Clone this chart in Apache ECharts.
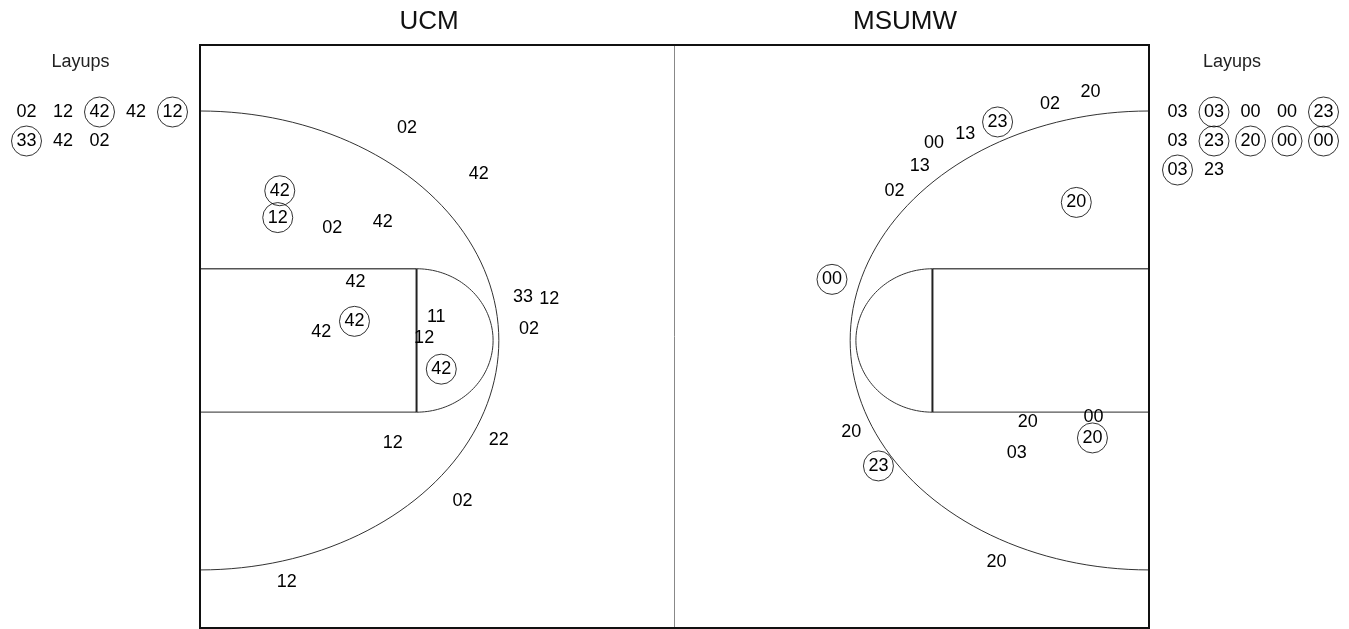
<!DOCTYPE html>
<html>
<head>
<meta charset="utf-8">
<script src="https://cdn.jsdelivr.net/npm/echarts@6/dist/echarts.min.js"></script>
<style>
  html, body { margin: 0; padding: 0; background: #fff; }
  #chart { width: 1349px; height: 629px; }
</style>
</head>
<body>
<div id="chart"></div>
<script>
// shot spots in feet: x along the court (0 = UCM baseline), y across (0 = top sideline)
const ucmPlayers = ['02', '42', '42', '12', '02', '42', '42', '42', '42', '11', '12', '42', '33', '12', '02', '12', '22', '02', '12'];
const ucmX = [20.5, 27.6, 7.9, 7.7, 13.1, 18.1, 15.4, 15.3, 12.0, 23.4, 22.2, 23.9, 32.0, 34.6, 32.6, 19.1, 29.6, 26.0, 8.6];
const ucmY = [7.1, 11.1, 12.5, 14.8, 15.7, 15.2, 20.3, 23.7, 24.6, 23.3, 25.1, 27.8, 21.6, 21.8, 24.4, 34.1, 33.9, 39.1, 46.1];
const ucmMade = [0, 0, 1, 1, 0, 0, 0, 1, 0, 0, 0, 1, 0, 0, 0, 0, 0, 0, 0];

const msuPlayers = ['20', '02', '23', '13', '00', '13', '02', '20', '00', '20', '23', '20', '00', '20', '03', '20'];
const msuX = [88.2, 84.2, 79.0, 75.8, 72.7, 71.3, 68.8, 86.8, 62.6, 64.5, 67.2, 82.0, 88.5, 88.4, 80.9, 78.9];
const msuY = [4.0, 5.1, 6.6, 7.6, 8.4, 10.4, 12.5, 13.5, 20.1, 33.2, 36.1, 32.3, 31.9, 33.7, 35.0, 44.3];
const msuMade = [0, 0, 1, 0, 0, 0, 0, 1, 1, 0, 1, 0, 0, 1, 0, 0];

const ucmLayups = ['02', '12', '42', '42', '12', '33', '42', '02'];
const ucmLayupMade = [0, 0, 1, 0, 1, 1, 0, 0];
const msuLayups = ['03', '03', '00', '00', '23', '03', '23', '20', '00', '00', '03', '23'];
const msuLayupMade = [0, 1, 0, 0, 1, 0, 1, 1, 1, 1, 1, 0];

// court geometry (feet)
const COURT_LEN = 94, COURT_WID = 50, MID_Y = 25.34;
const LANE_LEN = 21.45, LANE_HALF = 6.15;
const FT_RX = 7.58, ARC_RX = 29.6, ARC_RY = 19.68;

const FONT = 'Liberation Sans, Arial, sans-serif';

function ellipse(cx, cy, rx, ry, a0, a1, api) {
    const pts = [];
    for (let i = 0; i <= 90; i++) {
        const a = (a0 + (a1 - a0) * i / 90) * Math.PI / 180;
        pts.push(api.coord([cx + rx * Math.cos(a), cy + ry * Math.sin(a)]));
    }
    return pts;
}

function courtItem(params, api) {
    const p0 = api.coord([0, 0]);
    const p1 = api.coord([COURT_LEN, COURT_WID]);
    const kids = [];
    const line = (a, b, stroke, w) => {
        const s = api.coord(a), e = api.coord(b);
        kids.push({ type: 'line', shape: { x1: s[0], y1: s[1], x2: e[0], y2: e[1] },
            style: { stroke: stroke, lineWidth: w } });
    };
    const poly = (pts, stroke, w) => kids.push({ type: 'polyline', shape: { points: pts },
        style: { stroke: stroke, lineWidth: w, fill: null } });

    line([COURT_LEN / 2, 0], [COURT_LEN / 2, COURT_WID], '#888', 1);
    [[0, LANE_LEN], [COURT_LEN, COURT_LEN - LANE_LEN]].forEach(function (s) {
        line([s[0], MID_Y - LANE_HALF], [s[1], MID_Y - LANE_HALF], '#555', 1.3);
        line([s[0], MID_Y + LANE_HALF], [s[1], MID_Y + LANE_HALF], '#555', 1.3);
        line([s[1], MID_Y - LANE_HALF], [s[1], MID_Y + LANE_HALF], '#222', 2);
    });
    poly(ellipse(LANE_LEN, MID_Y, FT_RX, LANE_HALF, -90, 90, api), '#333', 1);
    poly(ellipse(COURT_LEN - LANE_LEN, MID_Y, FT_RX, LANE_HALF, 90, 270, api), '#333', 1);
    poly(ellipse(0, MID_Y, ARC_RX, ARC_RY, -90, 90, api), '#333', 1);
    poly(ellipse(COURT_LEN, MID_Y, ARC_RX, ARC_RY, 90, 270, api), '#333', 1);
    kids.push({ type: 'rect', shape: { x: p0[0], y: p0[1], width: p1[0] - p0[0], height: p1[1] - p0[1] },
        style: { stroke: '#111', lineWidth: 2, fill: null } });
    return { type: 'group', children: kids };
}

function shotData(players, xs, ys, made) {
    return players.map(function (p, i) {
        return {
            name: p,
            value: [xs[i], ys[i]],
            itemStyle: made[i]
                ? { color: 'rgba(0,0,0,0)', borderColor: '#000', borderWidth: 1 }
                : { color: 'rgba(0,0,0,0)', borderWidth: 0 }
        };
    });
}

function layupData(players, made) {
    return shotData(players,
        players.map(function (p, i) { return i % 5; }),
        players.map(function (p, i) { return Math.floor(i / 5); }),
        made);
}

const label = {
    show: true, position: 'inside', formatter: '{b}',
    color: '#000', textBorderWidth: 0, opacity: 1,
    fontSize: 18, fontFamily: FONT
};

function shotSeries(data, axisIndex) {
    return {
        type: 'scatter', xAxisIndex: axisIndex, yAxisIndex: axisIndex,
        symbol: 'circle', symbolSize: 30, clip: false, silent: true,
        data: data, label: label, emphasis: { disabled: true }
    };
}

const chart = echarts.init(document.getElementById('chart'));
chart.setOption({
    animation: false,
    backgroundColor: '#fff',
    grid: [
        { left: 200, top: 45, width: 949, height: 583 },
        { left: 26.5, top: 112, width: 146, height: 58 },
        { left: 1177.5, top: 112, width: 146, height: 58 }
    ],
    xAxis: [
        { type: 'value', gridIndex: 0, min: 0, max: COURT_LEN, show: false },
        { type: 'value', gridIndex: 1, min: 0, max: 4, show: false },
        { type: 'value', gridIndex: 2, min: 0, max: 4, show: false }
    ],
    yAxis: [
        { type: 'value', gridIndex: 0, min: 0, max: COURT_WID, inverse: true, show: false },
        { type: 'value', gridIndex: 1, min: 0, max: 2, inverse: true, show: false },
        { type: 'value', gridIndex: 2, min: 0, max: 2, inverse: true, show: false }
    ],
    graphic: [
        { type: 'text', x: 429, y: 22, style: { text: 'UCM', font: '26px ' + FONT, fill: '#111', align: 'center', verticalAlign: 'middle' } },
        { type: 'text', x: 905, y: 22, style: { text: 'MSUMW', font: '26px ' + FONT, fill: '#111', align: 'center', verticalAlign: 'middle' } },
        { type: 'text', x: 80.5, y: 62, style: { text: 'Layups', font: '18px ' + FONT, fill: '#222', align: 'center', verticalAlign: 'middle' } },
        { type: 'text', x: 1232, y: 62, style: { text: 'Layups', font: '18px ' + FONT, fill: '#222', align: 'center', verticalAlign: 'middle' } }
    ],
    series: [
        { type: 'custom', xAxisIndex: 0, yAxisIndex: 0, silent: true, clip: false,
          data: [0], renderItem: courtItem },
        shotSeries(shotData(ucmPlayers, ucmX, ucmY, ucmMade), 0),
        shotSeries(shotData(msuPlayers, msuX, msuY, msuMade), 0),
        shotSeries(layupData(ucmLayups, ucmLayupMade), 1),
        shotSeries(layupData(msuLayups, msuLayupMade), 2)
    ]
});
</script>
</body>
</html>
